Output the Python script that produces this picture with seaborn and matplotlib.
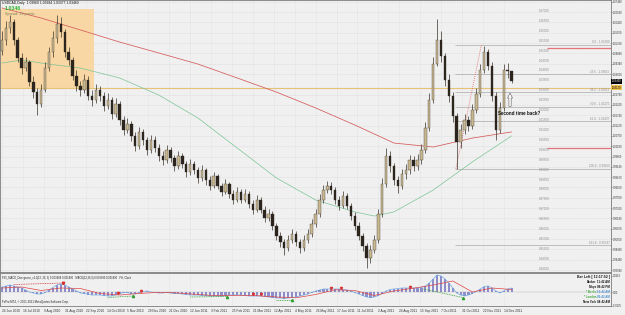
import matplotlib
matplotlib.use("Agg")
import matplotlib.pyplot as plt
import matplotlib.transforms as mtransforms
import numpy as np
import pandas as pd
import seaborn as sns

# ---------------- data (USDCAD daily, one candle ~ 3 sessions) ----------------
opens = [1.0500, 1.0553, 1.0614, 1.0644, 1.0553, 1.0463, 1.0412, 1.0443, 1.0342, 1.0291,
         1.0231, 1.0301, 1.0412, 1.0493, 1.0563, 1.0634, 1.0594, 1.0493, 1.0453, 1.0372,
         1.0322, 1.0301, 1.0352, 1.0271, 1.0251, 1.0301, 1.0271, 1.0221, 1.0251, 1.0180,
         1.0231, 1.0150, 1.0100, 1.0130, 1.0070, 1.0019, 1.0090, 1.0049, 0.9999, 1.0049,
         1.0009, 0.9969, 0.9949, 0.9999, 0.9959, 0.9918, 0.9969, 0.9928, 0.9888, 0.9928,
         0.9898, 0.9858, 0.9898, 0.9848, 0.9818, 0.9868, 0.9818, 0.9787, 0.9828, 0.9777,
         0.9747, 0.9787, 0.9747, 0.9777, 0.9727, 0.9697, 0.9747, 0.9697, 0.9656, 0.9676,
         0.9616, 0.9566, 0.9535, 0.9505, 0.9545, 0.9576, 0.9535, 0.9505, 0.9545, 0.9576,
         0.9626, 0.9676, 0.9747, 0.9797, 0.9818, 0.9797, 0.9747, 0.9717, 0.9767, 0.9717,
         0.9666, 0.9616, 0.9566, 0.9515, 0.9455, 0.9495, 0.9545, 0.9676, 0.9828, 0.9969,
         0.9918, 0.9848, 0.9818, 0.9878, 0.9898, 0.9949, 0.9918, 0.9949, 0.9999, 1.0110,
         1.0251, 1.0432, 1.0553, 1.0473, 1.0352, 1.0271, 1.0170, 1.0039, 1.0100, 1.0150,
         1.0120, 1.0201, 1.0281, 1.0402, 1.0493, 1.0422, 1.0271, 1.0100, 1.0211, 1.0402,
         1.0396]
closes = [1.0553, 1.0614, 1.0644, 1.0553, 1.0463, 1.0412, 1.0443, 1.0342, 1.0291, 1.0231,
          1.0301, 1.0412, 1.0493, 1.0563, 1.0634, 1.0594, 1.0493, 1.0453, 1.0372, 1.0322,
          1.0301, 1.0352, 1.0271, 1.0251, 1.0301, 1.0271, 1.0221, 1.0251, 1.0180, 1.0231,
          1.0150, 1.0100, 1.0130, 1.0070, 1.0019, 1.0090, 1.0049, 0.9999, 1.0049, 1.0009,
          0.9969, 0.9949, 0.9999, 0.9959, 0.9918, 0.9969, 0.9928, 0.9888, 0.9928, 0.9898,
          0.9858, 0.9898, 0.9848, 0.9818, 0.9868, 0.9818, 0.9787, 0.9828, 0.9777, 0.9747,
          0.9787, 0.9747, 0.9777, 0.9727, 0.9697, 0.9747, 0.9697, 0.9656, 0.9676, 0.9616,
          0.9566, 0.9535, 0.9505, 0.9545, 0.9576, 0.9535, 0.9505, 0.9545, 0.9576, 0.9626,
          0.9676, 0.9747, 0.9797, 0.9818, 0.9797, 0.9747, 0.9717, 0.9767, 0.9717, 0.9666,
          0.9616, 0.9566, 0.9515, 0.9455, 0.9495, 0.9545, 0.9676, 0.9828, 0.9969, 0.9918,
          0.9848, 0.9818, 0.9878, 0.9898, 0.9949, 0.9918, 0.9949, 0.9999, 1.0110, 1.0251,
          1.0432, 1.0553, 1.0473, 1.0352, 1.0271, 1.0170, 1.0039, 1.0100, 1.0150, 1.0120,
          1.0201, 1.0281, 1.0402, 1.0493, 1.0422, 1.0271, 1.0100, 1.0211, 1.0402, 1.0396,
          1.0346]
highs = [1.0600, 1.0650, 1.0678, 1.0660, 1.0570, 1.0490, 1.0470, 1.0455, 1.0370, 1.0310,
         1.0330, 1.0440, 1.0520, 1.0600, 1.0678, 1.0670, 1.0610, 1.0520, 1.0470, 1.0400,
         1.0345, 1.0380, 1.0370, 1.0300, 1.0330, 1.0320, 1.0290, 1.0285, 1.0265, 1.0260,
         1.0245, 1.0170, 1.0160, 1.0145, 1.0090, 1.0115, 1.0105, 1.0065, 1.0075, 1.0070,
         1.0030, 0.9995, 1.0025, 1.0015, 0.9975, 0.9995, 0.9985, 0.9945, 0.9955, 0.9945,
         0.9915, 0.9925, 0.9910, 0.9870, 0.9890, 0.9880, 0.9835, 0.9855, 0.9840, 0.9795,
         0.9810, 0.9800, 0.9800, 0.9790, 0.9745, 0.9770, 0.9760, 0.9715, 0.9700, 0.9690,
         0.9630, 0.9585, 0.9550, 0.9570, 0.9600, 0.9590, 0.9550, 0.9570, 0.9600, 0.9650,
         0.9700, 0.9775, 0.9825, 0.9845, 0.9840, 0.9810, 0.9765, 0.9790, 0.9780, 0.9730,
         0.9685, 0.9635, 0.9580, 0.9530, 0.9520, 0.9570, 0.9700, 0.9860, 1.0010, 0.9995,
         0.9935, 0.9870, 0.9905, 0.9930, 0.9975, 0.9970, 0.9980, 1.0030, 1.0140, 1.0285,
         1.0470, 1.0657, 1.0600, 1.0490, 1.0380, 1.0290, 1.0185, 1.0130, 1.0180, 1.0170,
         1.0230, 1.0310, 1.0430, 1.0524, 1.0510, 1.0440, 1.0290, 1.0240, 1.0430, 1.0435,
         1.0398]
lows = [1.0480, 1.0530, 1.0590, 1.0530, 1.0440, 1.0380, 1.0395, 1.0320, 1.0260, 1.0175,
        1.0215, 1.0290, 1.0395, 1.0470, 1.0540, 1.0570, 1.0470, 1.0425, 1.0350, 1.0295,
        1.0270, 1.0285, 1.0250, 1.0220, 1.0235, 1.0245, 1.0195, 1.0205, 1.0155, 1.0165,
        1.0125, 1.0075, 1.0085, 1.0045, 0.9995, 1.0005, 1.0025, 0.9975, 0.9985, 0.9990,
        0.9945, 0.9925, 0.9935, 0.9940, 0.9895, 0.9905, 0.9910, 0.9865, 0.9875, 0.9880,
        0.9835, 0.9845, 0.9825, 0.9795, 0.9805, 0.9800, 0.9765, 0.9775, 0.9755, 0.9725,
        0.9735, 0.9730, 0.9735, 0.9705, 0.9675, 0.9685, 0.9680, 0.9635, 0.9640, 0.9595,
        0.9545, 0.9510, 0.9470, 0.9490, 0.9530, 0.9515, 0.9480, 0.9490, 0.9530, 0.9560,
        0.9610, 0.9660, 0.9730, 0.9780, 0.9775, 0.9725, 0.9695, 0.9705, 0.9700, 0.9645,
        0.9595, 0.9545, 0.9490, 0.9406, 0.9430, 0.9480, 0.9530, 0.9660, 0.9810, 0.9890,
        0.9820, 0.9780, 0.9800, 0.9855, 0.9880, 0.9895, 0.9900, 0.9930, 0.9985, 1.0095,
        1.0235, 1.0420, 1.0440, 1.0320, 1.0240, 1.0140, 0.9905, 1.0010, 1.0080, 1.0095,
        1.0105, 1.0185, 1.0265, 1.0385, 1.0400, 1.0245, 1.0049, 1.0085, 1.0195, 1.0360,
        1.0338]

# moving averages (sampled at candle numbers)
ma_red_idx = [0, 10, 20, 30, 40, 50, 60, 70, 80, 90, 100, 110, 120, 130]
ma_red = [1.0715, 1.0664, 1.0604, 1.0543, 1.0488, 1.0432, 1.0362, 1.0291, 1.0211, 1.0125,
          1.0034, 1.0014, 1.0059, 1.0090]
ma_green_idx = [0, 5, 10, 20, 30, 40, 50, 60, 70, 80, 90, 95, 100, 110, 120, 130]
ma_green = [1.0437, 1.0453, 1.0437, 1.0412, 1.0362, 1.0276, 1.0160, 1.0009, 0.9858, 0.9747,
            0.9687, 0.9666, 0.9687, 0.9797, 0.9939, 1.0070]

# MACD histogram (x 1e-3), one value per candle
macd_e3 = [5, 6, 7, 6, 5, 4, 2, 0, -1, -2,
           -2, -0.5, 2, 4.5, 7, 8, 7, 5, 3, 1,
           -1, -1.5, -2.5, -3, -3, -3, -3.5, -4, -4, -3,
           -1.5, -0.5, -0.5, -1.5, -2, -0.5, 0.5, 1, 0, -0.5,
           -1, -1, -0.5, -1, -1.5, -1.5, -2, -2.5, -3, -3,
           -3, -3.5, -3.5, -4, -4, -4, -4, -3.5, -3, -3,
           -3, -3, -3.5, -4, -4, -4, -4, -4.5, -5, -5.5,
           -6, -6, -6.5, -6, -5.5, -5, -4, -3, -2, -0.5,
           1, 2, 3, 3, 3, 3, 3, 2.5, 2, 1,
           -0.5, -2, -3.5, -5, -5.5, -5, -3.5, -1.5, 1, 2.5,
           3, 3.5, 4, 4, 4, 4, 4, 4.5, 6, 9,
           13, 17, 16, 13, 9, 4, -1, -3, -4, -3,
           -1.5, 0.5, 3, 5.5, 6, 4, 1, -1, 1, 3,
           4]
signal_idx = [0, 5, 10, 15, 20, 25, 30, 35, 40, 45, 50, 55, 60, 65, 70, 75, 80, 85, 90,
              95, 100, 105, 110, 115, 120, 125, 130]
signal_e3 = [4, 5, 1.5, 4, 3.5, -1.5, -3, -1.5, -0.3, -1, -2.5, -3.7, -3.3, -3.7, -5, -5.8,
             -2.5, 2.2, 1.5, -3.5, 1, 3.8, 7, 11, 0, 4, 2.5]
# divergence segments drawn by the indicator (candle, value e3)
div_x0 = [3, 27, 48, 70, 107.5]
div_y0 = [7.5, -5.5, -5, -7.5, 3]
div_x1 = [15.5, 33.5, 57.5, 74, 117.5]
div_y1 = [9, -4, -4.5, -7.5, -5.5]
div_col = ['#d83030', '#2e9e2e', '#2e9e2e', '#2e9e2e', '#2e9e2e']
red_mark_x = [15.5, 29.5, 35.5, 64, 66, 84, 86.5, 104]
red_mark_y = [9.5, -1, 1.5, -2, -2, 4, 4, 5]

# levels and annotations
right_ticks = [1.07460, 1.06940, 1.06420, 1.05900, 1.05380, 1.04860, 1.04340, 1.03820,
               1.02780, 1.02260, 1.01740, 1.01220, 1.00700, 1.00180, 0.99660, 0.99140,
               0.98620, 0.98100, 0.97580, 0.97060, 0.96540, 0.96020, 0.95500, 0.94980,
               0.94460, 0.93940]
round_levels = [1.070, 1.065, 1.060, 1.055, 1.050, 1.045, 1.040, 1.035, 1.030, 1.025,
                1.020, 1.015, 1.010, 1.005, 1.000, 0.995, 0.990, 0.985, 0.980, 0.975,
                0.970, 0.965, 0.960, 0.955, 0.950, 0.945, 0.940]
fib_ratio = ['0.0', '23.6', '38.2', '50.0', '61.8', '100.0', '161.8']
fib_price = [1.05300, 1.03825, 1.02912, 1.02175, 1.01437, 0.99050, 0.95187]
red_levels = [1.0512, 1.0008]
yellow_level = 1.0312
box_top, box_bottom = 1.0710, 1.0312
last_price = 1.0346
date_labels = ['24 Jun 2010', '16 Jul 2010', '9 Aug 2010', '31 Aug 2010', '22 Sep 2010',
               '14 Oct 2010', '5 Nov 2010', '29 Nov 2010', '21 Dec 2010', '12 Jan 2011',
               '3 Feb 2011', '25 Feb 2011', '21 Mar 2011', '12 Apr 2011', '4 May 2011',
               '26 May 2011', '17 Jun 2011', '11 Jul 2011', '2 Aug 2011', '24 Aug 2011',
               '15 Sep 2011', '7 Oct 2011', '31 Oct 2011', '22 Nov 2011', '14 Dec 2011']
clock_names = ['Broker', 'Tokyo', '* Berlin', '* London', 'New York']
clock_times = ['11:42 AM', '08:42 PM', '10:42 AM', '09:42 AM', '04:42 AM']

# ---------------- figure ----------------
W, H = 625, 315
sns.set_theme(style="white")
plt.rcParams['font.family'] = ['Liberation Sans', 'DejaVu Sans']
BG = '#f0f0f0'
fig = plt.figure(figsize=(W / 100, H / 100), dpi=100, facecolor=BG)

def fx(x):
    return x / W

def fy(y):
    return 1 - y / H

ax = fig.add_axes([0, fy(272), fx(611), 272 / H])
axm = fig.add_axes([0, fy(306), fx(611), 33 / H])
for a in (ax, axm):
    a.set_facecolor(BG)
    for s in a.spines.values():
        s.set_color('#7a7a7a')
        s.set_linewidth(0.6)

o = np.array(opens)
c = np.array(closes)
hi = np.array(highs)
lo = np.array(lows)
n = len(c)
idx = np.arange(n)
XL = (-0.51, 155.36)
ax.set_xlim(*XL)
axm.set_xlim(*XL)
ax.set_ylim(0.9384, 1.0755)
axm.set_ylim(-0.014, 0.019)

tick_pos = [k * 16 / 3 for k in range(len(date_labels))]

# grid (dotted)
ax.hlines(right_ticks, XL[0], XL[1], colors='#c4c4c4', linestyles=(0, (1, 2)), lw=0.4, zorder=0)
ax.vlines(tick_pos, 0.9384, 1.0755, colors='#d0d0d0', linestyles=(0, (1, 2)), lw=0.4, zorder=0)

# orange zone + yellow line
ax.fill_between([XL[0], 23.5], box_bottom, box_top, color='#f8d7a4', lw=0, zorder=1)
ax.axhline(yellow_level, color='#e6c276', lw=0.8, zorder=1)

# fib lines
ax.hlines(fib_price, 115.5, XL[1], colors='#a9a9a9', lw=0.5, zorder=1)
for r, p in zip(fib_ratio, fib_price):
    ax.text(155.0, p + 0.0002, f'{r} - {p:.5f}', fontsize=2.2, color='#8f8f8f',
            ha='right', va='bottom', zorder=6)
ax.plot([115.8, 122.3], [fib_price[5], fib_price[0]], ls=(0, (1, 1.5)), color='#e06060',
        lw=0.6, zorder=2)
ax.hlines(red_levels, 139, XL[1], colors='#e2747a', lw=0.9, zorder=2)

# round-number labels
for p in round_levels:
    ax.text(137, p, f'{p:.5f}', fontsize=2.2, color='#8c8c8c', ha='left', va='center', zorder=6)

# moving averages
sns.lineplot(x=ma_red_idx, y=ma_red, ax=ax, color='#d45a5a', lw=0.55, zorder=2)
sns.lineplot(x=ma_green_idx, y=ma_green, ax=ax, color='#7cc496', lw=0.5, zorder=2)

# candles
up = c >= o
ax.vlines(idx, lo, hi, colors='#3a3229', lw=0.5, zorder=3)
body_lo = np.minimum(o, c)
body_h = np.maximum(np.abs(c - o), 0.00025)
ax.bar(idx[up], body_h[up], bottom=body_lo[up], width=0.62, color='#c8b891',
       edgecolor='#3a3229', lw=0.25, zorder=4)
ax.bar(idx[~up], body_h[~up], bottom=body_lo[~up], width=0.62, color='#2c251e',
       edgecolor='#2c251e', lw=0.25, zorder=4)

# annotation
ax.text(126.5, 1.0185, 'Second time back?', fontsize=3.3, fontweight='bold', color='#111111',
        ha='left', va='center', zorder=7)
ax.annotate('', xy=(129.6, 1.0300), xytext=(129.6, 1.0205),
            arrowprops=dict(arrowstyle='simple,head_width=0.9,head_length=0.9,tail_width=0.4',
                            fc='white', ec='#555555', lw=0.4, mutation_scale=4), zorder=7)

# right axis (narrow column at the image edge)
ax.yaxis.tick_right()
ax.set_yticks(right_ticks)
ax.set_yticklabels([f'{v:.5f}' for v in right_ticks])
ax.tick_params(axis='y', labelsize=1.9, length=1.0, width=0.4, pad=0.4, colors='#333333')
ax.set_xticks(tick_pos)
ax.tick_params(axis='x', length=0, labelbottom=False)
blend = mtransforms.blended_transform_factory(ax.transAxes, ax.transData)
ax.text(1.0015, last_price, f'{last_price:.5f}', transform=blend, fontsize=1.9, color='white',
        va='center', ha='left', clip_on=False, zorder=8,
        bbox=dict(fc='black', ec='none', pad=0.3))
ax.text(1.0015, yellow_level, f'{yellow_level:.5f}', transform=blend, fontsize=1.9,
        color='black', va='center', ha='left', clip_on=False, zorder=8,
        bbox=dict(fc='#f2c14e', ec='none', pad=0.3))

# ---------------- MACD panel ----------------
macd = np.array(macd_e3) / 1000
sig = np.array(signal_e3) / 1000
axm.vlines(tick_pos, -0.014, 0.019, colors='#d0d0d0', linestyles=(0, (1, 2)), lw=0.4, zorder=0)
axm.axhline(0, color='#b4b4b4', lw=0.3, zorder=1)
axm.bar(idx, macd, width=0.55, color='#8d8dc9', lw=0, zorder=2)
sns.lineplot(x=idx, y=macd, ax=axm, color='#72aae2', lw=0.5, zorder=3)
sns.lineplot(x=signal_idx, y=sig, ax=axm, color='#e04444', lw=0.5, zorder=4)
for x0, y0, x1, y1, col in zip(div_x0, div_y0, div_x1, div_y1, div_col):
    axm.plot([x0, x1], [y0 / 1000, y1 / 1000], ls=(0, (1.5, 1)), color=col, lw=0.5, zorder=5)
    axm.plot([x1], [y1 / 1000], marker='^' if col != '#d83030' else 'v', ms=1.6, color=col,
             lw=0, zorder=6)
axm.plot(red_mark_x, np.array(red_mark_y) / 1000, ls='none', marker='v', ms=1.5,
         color='#d83030', zorder=6)

axm.yaxis.tick_right()
axm.set_yticks([0.0163, 0.0, -0.0135])
axm.set_yticklabels(['0.0163', '0.00', '-0.0135'])
axm.tick_params(axis='y', labelsize=1.9, length=1.0, width=0.4, pad=0.4, colors='#333333')
axm.set_xticks(tick_pos)
axm.set_xticklabels(date_labels, ha='left')
axm.tick_params(axis='x', labelsize=2.3, length=1.5, width=0.4, pad=1, colors='#333333')
axm.set_xlabel('')
axm.set_ylabel('')
ax.set_xlabel('')
ax.set_ylabel('')

axm.text(0.003, 0.92, 'FX5_MACD_Divergence_v1.1(12, 26, 9) 0.003488 0.001490   '
         'MACD(12,26,9) 0.002899 0.001490   FH, Clock', transform=axm.transAxes,
         fontsize=1.9, color='#222222', ha='left', va='top')
axm.text(0.003, 0.06, 'FxPro MT4, \u00a9 2001-2011 MetaQuotes Software Corp.',
         transform=axm.transAxes, fontsize=2.0, color='#222222', ha='left', va='bottom')

# clock box
fig.text(fx(610), fy(277), 'Bar Left [ 12:17:52 ]', fontsize=2.5, fontweight='bold',
         color='#111111', ha='right', va='center')
name_cols = ['#111111', '#111111', '#3aa63a', '#3aa63a', '#111111']
time_cols = ['#111111', '#111111', '#4a8fd0', '#4a8fd0', '#111111']
for k, (nm, tm) in enumerate(zip(clock_names, clock_times)):
    yy = 282 + 5 * k
    fig.text(fx(596), fy(yy), nm, fontsize=2.1, fontweight='bold', color=name_cols[k],
             ha='right', va='center')
    fig.text(fx(610), fy(yy), tm, fontsize=2.1, fontweight='bold', color=time_cols[k],
             ha='right', va='center')

# header texts
fig.text(fx(2), fy(3), 'USDCAD,Daily  1.03960 1.03984 1.03377 1.03460', fontsize=2.4,
         color='#111111', ha='left', va='center')
fig.text(fx(5), fy(8.5), '1.0346', fontsize=3.8, fontweight='bold', color='#2db52d',
         ha='left', va='center')
fig.text(fx(5), fy(14), 'Spread: 13 points', fontsize=2.7, color='#7d7d5c',
         ha='left', va='center')

fig.savefig('out.png', dpi=100, facecolor=BG)
